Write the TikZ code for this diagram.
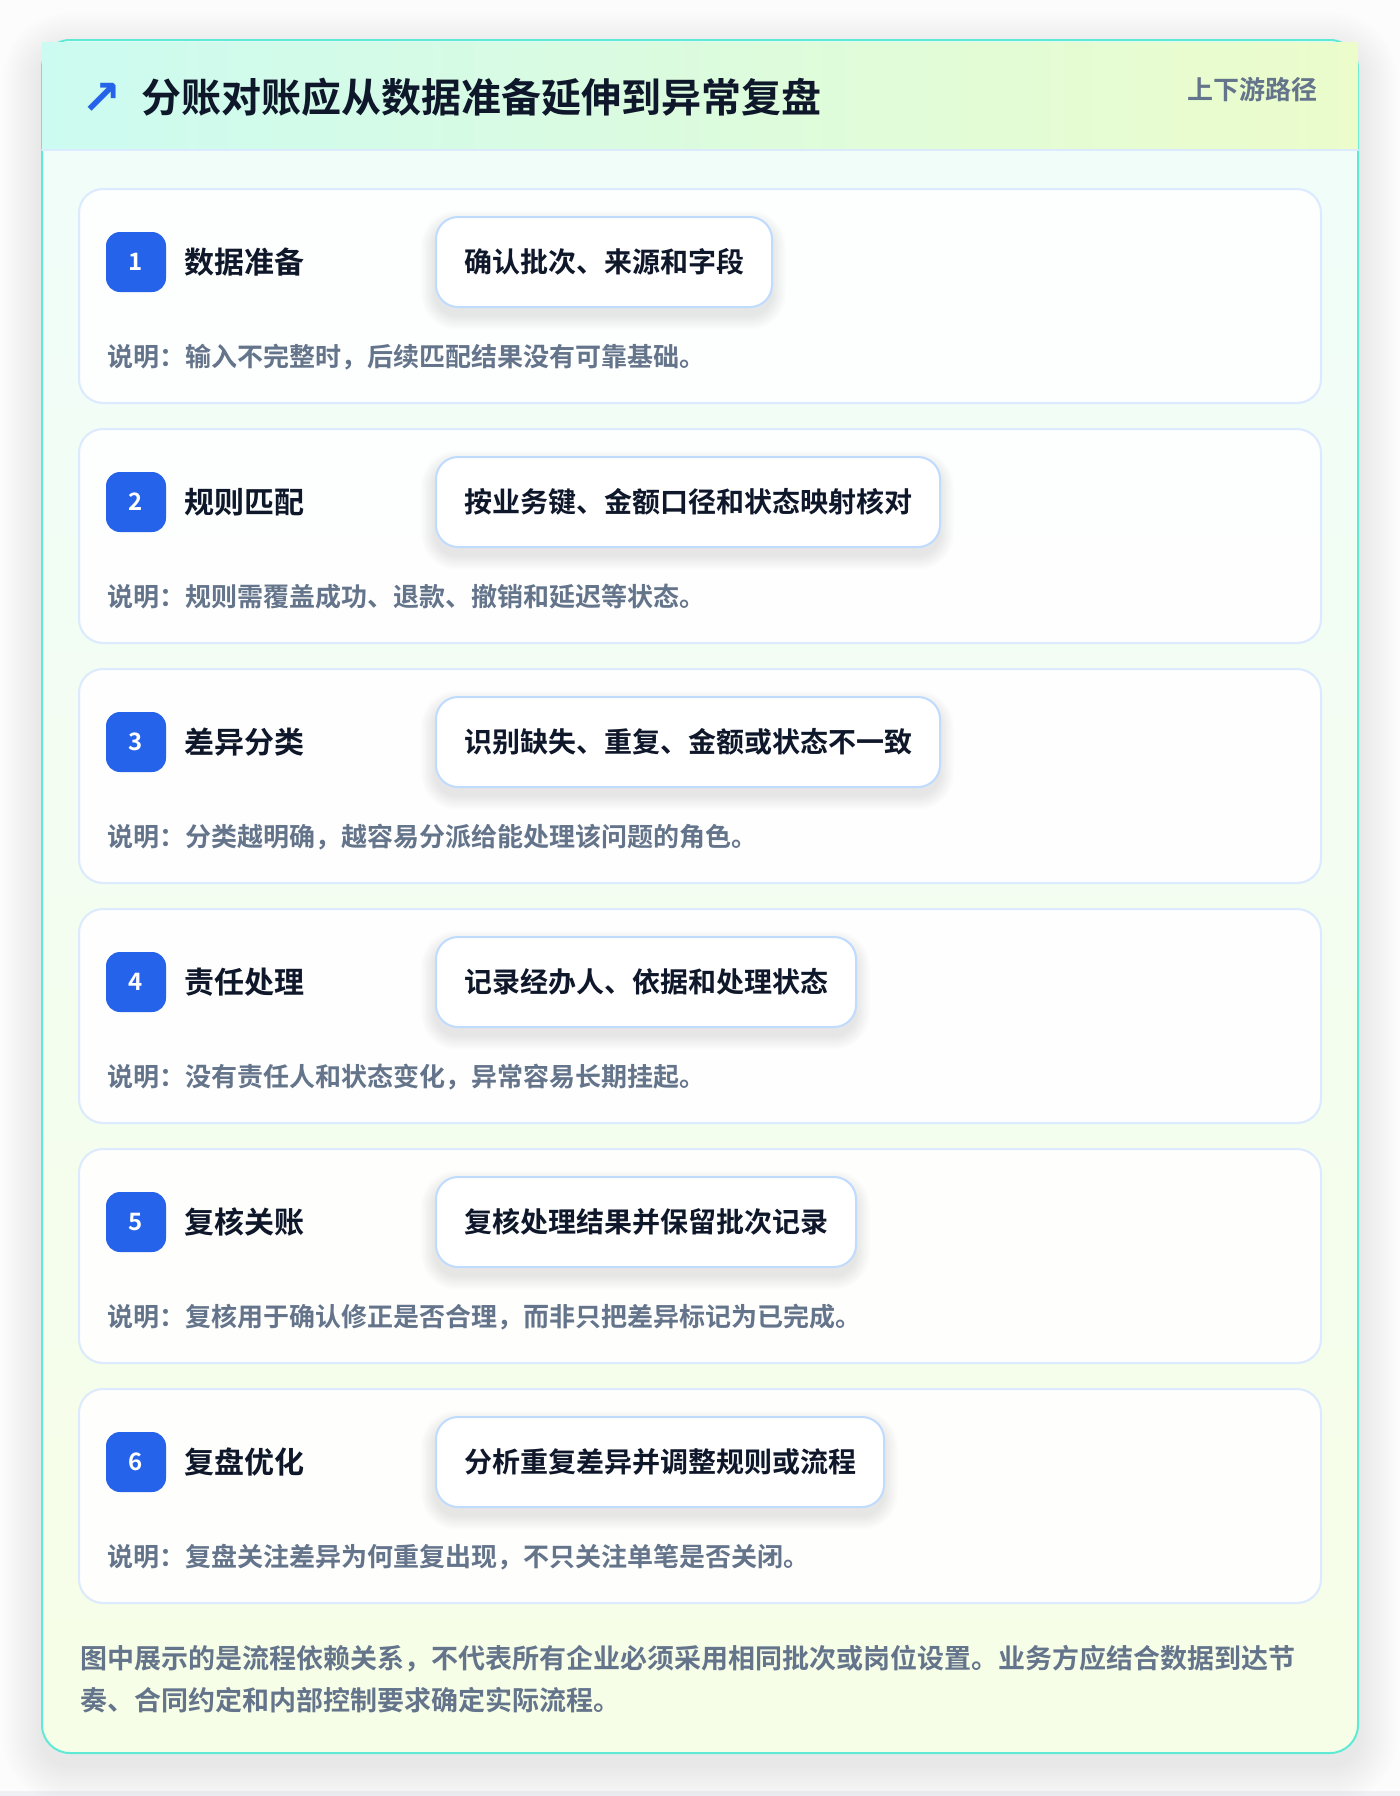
\documentclass[tikz,border=0pt]{standalone}
\usepackage{fontspec}
\setmainfont{Noto Sans CJK SC}[BoldFont={Noto Sans CJK SC Bold}]
\newfontfamily\symfont{DejaVu Sans}
\usetikzlibrary{positioning}
\definecolor{pagebg}{HTML}{FCFCFC}
\definecolor{pagestrip}{HTML}{EEF0F4}
\definecolor{tealline}{HTML}{5EEAD4}
\definecolor{headleft}{HTML}{CCFBF1}
\definecolor{headright}{HTML}{ECFCCB}
\definecolor{bodytop}{HTML}{F0FDFA}
\definecolor{bodybottom}{HTML}{F7FEE7}
\definecolor{cardline}{HTML}{DBEAFE}
\definecolor{pillline}{HTML}{BFDBFE}
\definecolor{badgeblue}{HTML}{2563EB}
\definecolor{inkdark}{HTML}{0F172A}
\definecolor{inkgray}{HTML}{64748B}
\tikzset{
	stepcard/.style={draw=cardline, line width=1pt, fill=white, fill opacity=0.9, rounded corners=12pt},
	badge/.style={fill=badgeblue, rounded corners=7pt, minimum size=30pt, inner sep=0pt, text=white, font=\fontsize{12}{12}\selectfont\bfseries},
	steptitle/.style={inner sep=0pt, text=inkdark, font=\fontsize{15}{15}\selectfont\bfseries},
	pillbox/.style={draw=pillline, line width=1pt, fill=white, rounded corners=11pt, minimum height=45pt, inner xsep=14pt, inner ysep=0pt, text=inkdark, font=\fontsize{14}{14}\selectfont\bfseries},
	pillshadow/.style={fill=black, fill opacity=0.011, draw=none, inner ysep=0pt, font=\fontsize{14}{14}\selectfont\bfseries},
	notetext/.style={inner sep=0pt, text=inkgray, font=\fontsize{13}{13}\selectfont\bfseries}
}
\begin{document}
\begin{tikzpicture}[x=0.5pt, y=-0.5pt, line join=round, line cap=round, >=stealth]
	\useasboundingbox (0,0) rectangle (1400,1796);
	\fill[pagebg] (0,0) rectangle (1400,1796);
	\fill[pagestrip] (0,1791) rectangle (1400,1796);
	% soft shadow of the outer card
	\foreach \k in {1,...,20}
		\fill[black, opacity=0.0042, rounded corners=14pt+\k pt] (42-2*\k,52-2*\k) rectangle (1358+2*\k,1765+2*\k);
	% outer card
	\path[top color=bodytop, bottom color=bodybottom, rounded corners=14pt] (42,40) rectangle (1358,1753);
	\draw[tealline, line width=1pt, rounded corners=14pt] (42,40) rectangle (1358,1753);
	% header band
	\shade[left color=headleft, right color=headright] (42,42) rectangle (1358,150);
	\draw[cardline, line width=1pt] (42,150) -- (1358,150);
	\node[text=badgeblue, inner sep=0pt, font=\symfont\bfseries\fontsize{24}{24}\selectfont] (icon) at (102,99) {↗};
	\node[anchor=west, inner sep=0pt, text=inkdark, font=\fontsize{20}{20}\selectfont\bfseries] (title) at (141,97) {分账对账应从数据准备延伸到异常复盘};
	\node[anchor=east, inner sep=0pt, text=inkgray, font=\fontsize{13}{13}\selectfont\bfseries] (tag) at (1318,90) {上下游路径};
	% steps
	\foreach \num/\name/\task/\note in {
		1/数据准备/确认批次、来源和字段/输入不完整时，后续匹配结果没有可靠基础。,
		2/规则匹配/按业务键、金额口径和状态映射核对/规则需覆盖成功、退款、撤销和延迟等状态。,
		3/差异分类/识别缺失、重复、金额或状态不一致/分类越明确，越容易分派给能处理该问题的角色。,
		4/责任处理/记录经办人、依据和处理状态/没有责任人和状态变化，异常容易长期挂起。,
		5/复核关账/复核处理结果并保留批次记录/复核用于确认修正是否合理，而非只把差异标记为已完成。,
		6/复盘优化/分析重复差异并调整规则或流程/复盘关注差异为何重复出现，不只关注单笔是否关闭。}{
		\pgfmathsetmacro\cardtop{189+240*(\num-1)}
		\draw[stepcard] (79,\cardtop) rectangle (1321,\cardtop+214);
		\node[badge] (badge\num) at (136,\cardtop+73) {\num};
		\node[steptitle, right=9pt of badge\num] (name\num) {\name};
		\foreach \k in {1,...,8}
			\node[pillshadow, anchor=west, inner xsep=14pt+0.9*\k pt, minimum height=45pt+1.8*\k pt, rounded corners=11pt+0.9*\k pt] at (435-1.8*\k,\cardtop+81) {\phantom{\task}};
		\node[pillbox, anchor=west] (task\num) at (435,\cardtop+73) {\task};
		\node[notetext, anchor=west] (note\num) at (107,\cardtop+168) {说明：\note};
	}
	% footer
	\node[anchor=west, align=left, inner sep=0pt, text=inkgray, font=\fontsize{13.5}{21}\selectfont\bfseries] (footer) at (80,1679)
		{图中展示的是流程依赖关系，不代表所有企业必须采用相同批次或岗位设置。业务方应结合数据到达节\\奏、合同约定和内部控制要求确定实际流程。};
\end{tikzpicture}
\end{document}
